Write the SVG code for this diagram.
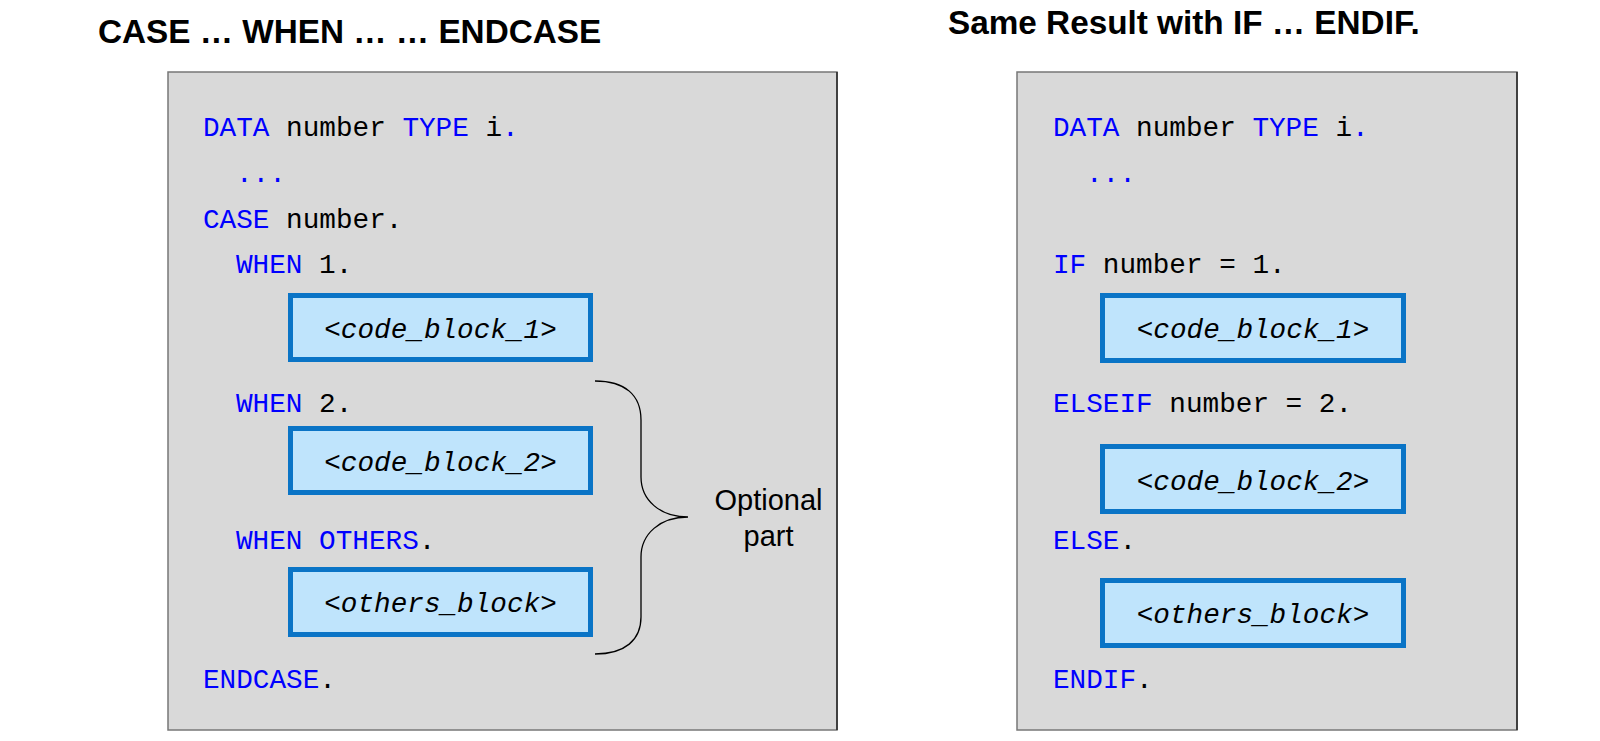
<svg xmlns="http://www.w3.org/2000/svg" width="1600" height="741" viewBox="0 0 1600 741">
<style>
.title{font-family:"Liberation Sans",Arial,sans-serif;font-weight:bold;font-size:33.3px;fill:#000}
.code{font-family:"Liberation Mono","Courier New",monospace;font-size:27.7px;fill:#000}
.kw{fill:#0000ff}
.blk{font-family:"Liberation Mono","Courier New",monospace;font-size:27.7px;font-style:italic;fill:#000;text-anchor:middle}
.panel{fill:#d9d9d9;stroke:#777;stroke-width:1.5}
.edge{stroke:#262626;stroke-width:1.5}
.cb{fill:#bfe4fc;stroke:#0a74c6;stroke-width:5}
.lbl{font-family:"Liberation Sans",Arial,sans-serif;font-size:29px;fill:#000;text-anchor:middle}
.brace{fill:none;stroke:#000;stroke-width:1.3}
</style>
<rect width="1600" height="741" fill="#fff"/>
<text class="title" x="98" y="43">CASE … WHEN … … ENDCASE</text>
<text class="title" x="948" y="34">Same Result with IF … ENDIF.</text>

<g id="case-panel">
<rect class="panel" x="168" y="72" width="669" height="658"/>
<line class="edge" x1="837" y1="72" x2="837" y2="730"/>
<text class="code" x="203" y="136"><tspan class="kw">DATA</tspan> number <tspan class="kw">TYPE</tspan> i<tspan class="kw">.</tspan></text>
<text class="code kw" x="236" y="182">...</text>
<text class="code" x="203" y="228"><tspan class="kw">CASE</tspan> number.</text>
<text class="code" x="236" y="273"><tspan class="kw">WHEN</tspan> 1.</text>
<text class="code" x="236" y="412"><tspan class="kw">WHEN</tspan> 2.</text>
<text class="code" x="236" y="549"><tspan class="kw">WHEN OTHERS</tspan>.</text>
<text class="code" x="203" y="688"><tspan class="kw">ENDCASE</tspan>.</text>
</g>
<g id="case-block1">
<rect class="cb" x="290.5" y="295.5" width="300" height="64"/>
<text class="blk" x="440.5" y="338">&lt;code_block_1&gt;</text>
</g>
<g id="case-block2">
<rect class="cb" x="290.5" y="428.5" width="300" height="64"/>
<text class="blk" x="440.5" y="471">&lt;code_block_2&gt;</text>
</g>
<g id="case-others">
<rect class="cb" x="290.5" y="569.5" width="300" height="65"/>
<text class="blk" x="440.5" y="612">&lt;others_block&gt;</text>
</g>
<g id="optional">
<path class="brace" d="M595,381 C625,381 641,395 641,420 L641,477 C641,500 660,517 688,517 C660,517 641,534 641,557 L641,617 C641,640 625,654 595,654"/>
<text class="lbl" x="768.5" y="510">Optional</text>
<text class="lbl" x="768.5" y="546">part</text>
</g>

<g id="if-panel">
<rect class="panel" x="1017" y="72" width="500" height="658"/>
<line class="edge" x1="1517" y1="72" x2="1517" y2="730"/>
<text class="code" x="1053" y="136"><tspan class="kw">DATA</tspan> number <tspan class="kw">TYPE</tspan> i<tspan class="kw">.</tspan></text>
<text class="code kw" x="1086" y="182">...</text>
<text class="code" x="1053" y="273"><tspan class="kw">IF</tspan> number = 1.</text>
<text class="code" x="1053" y="412"><tspan class="kw">ELSEIF</tspan> number = 2.</text>
<text class="code" x="1053" y="549"><tspan class="kw">ELSE</tspan>.</text>
<text class="code" x="1053" y="688"><tspan class="kw">ENDIF</tspan>.</text>
</g>
<g id="if-block1">
<rect class="cb" x="1102.5" y="295.5" width="301" height="65"/>
<text class="blk" x="1253" y="338">&lt;code_block_1&gt;</text>
</g>
<g id="if-block2">
<rect class="cb" x="1102.5" y="446.5" width="301" height="65"/>
<text class="blk" x="1253" y="490">&lt;code_block_2&gt;</text>
</g>
<g id="if-others">
<rect class="cb" x="1102.5" y="580.5" width="301" height="65"/>
<text class="blk" x="1253" y="623">&lt;others_block&gt;</text>
</g>
<g id="connectors"></g>
</svg>
